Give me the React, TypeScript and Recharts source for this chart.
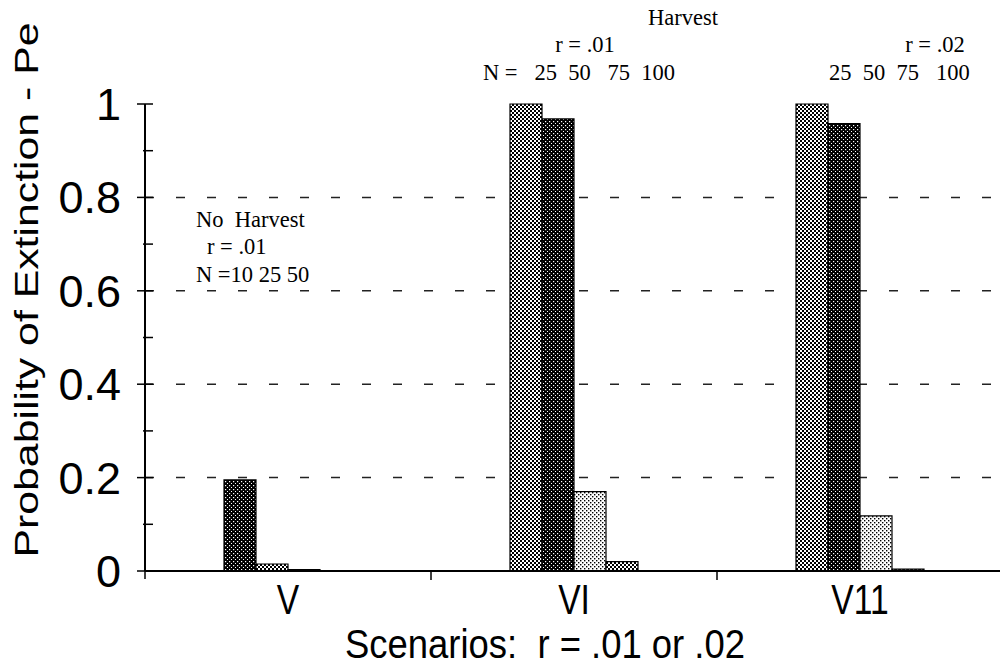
import React from "react";
import { BarChart, Bar, XAxis, YAxis, CartesianGrid, Cell } from "recharts";

// scenario groups and the four bars drawn in each group (left to right)
const scenarios = ["V", "VI", "V11"];
const bar1 = [0.195, 1.0, 1.0];
const bar2 = [0.015, 0.968, 0.958];
const bar3 = [0.003, 0.17, 0.118];
const bar4 = [0, 0.02, 0.004];

// halftone used by each bar, per scenario
const fill1 = ["dark", "checker", "checker"];
const fill2 = ["checker", "dark", "dark"];
const fill3 = ["light", "light", "light"];
const fill4 = ["checker", "checker", "dark"];

const yTicks = [0, 0.1, 0.2, 0.3, 0.4, 0.5, 0.6, 0.7, 0.8, 0.9, 1];
const gridValues = [0.2, 0.4, 0.6, 0.8];

const data = scenarios.map((name, i) => ({
  name,
  a: bar1[i],
  b: bar2[i],
  c: bar3[i],
  d: bar4[i],
}));

const W = 1010;
const H = 666;
const LEFT = 145;
const RIGHT = 7;
const BAND = (W - LEFT - RIGHT) / scenarios.length;
const SANS = '"Liberation Sans", Arial, Helvetica, sans-serif';
const SERIF = '"Liberation Serif", "Times New Roman", serif';

const YTick = (props: any) => {
  const { x, y, payload } = props;
  const v = payload.value;
  const major = Math.round(v * 10) % 2 === 0;
  const label = v === 0 ? "0" : v === 1 ? "1" : v.toFixed(1);
  return (
    <g>
      <line x1={major ? x - 8 : x - 2} x2={x + 8} y1={y} y2={y} stroke="#000" strokeWidth={1.5} />
      {major && (
        <text x={x - 24} y={y + 16} textAnchor="end" fontSize={45} fontFamily={SANS} fill="#000">
          {label}
        </text>
      )}
    </g>
  );
};

const XTick = (props: any) => {
  const { x, y, payload, index } = props;
  return (
    <g>
      {index === 0 && <line x1={x - BAND / 2} x2={x - BAND / 2} y1={y} y2={y + 8} stroke="#000" strokeWidth={1.5} />}
      {index < scenarios.length - 1 && (
        <line x1={x + BAND / 2} x2={x + BAND / 2} y1={y} y2={y + 9} stroke="#000" strokeWidth={1.5} />
      )}
      <text
        transform={`translate(${x},${y + 43}) scale(0.8,1)`}
        textAnchor="middle"
        fontSize={42}
        fontFamily={SANS}
        fill="#000"
      >
        {payload.value}
      </text>
    </g>
  );
};

const Patterns = () => (
  <svg width={0} height={0} style={{ position: "absolute" }}>
    <defs>
      <pattern id="checker" width={4} height={4} patternUnits="userSpaceOnUse">
        <rect width={4} height={4} fill="#fff" />
        <rect width={2} height={2} fill="#000" />
        <rect x={2} y={2} width={2} height={2} fill="#000" />
      </pattern>
      <pattern id="dark" width={4} height={4} patternUnits="userSpaceOnUse">
        <rect width={4} height={4} fill="#000" />
        <rect x={1} y={1} width={1.2} height={1.2} fill="#fff" />
        <rect x={3} y={3} width={1.2} height={1.2} fill="#fff" />
      </pattern>
      <pattern id="light" width={4} height={4} patternUnits="userSpaceOnUse">
        <rect width={4} height={4} fill="#fff" />
        <rect x={0} y={0} width={1.4} height={1.4} fill="#000" />
        <rect x={2} y={2} width={1.4} height={1.4} fill="#000" />
      </pattern>
    </defs>
  </svg>
);

const Notes = () => (
  <svg
    width={1000}
    height={H}
    style={{ position: "absolute", left: 0, top: 0, pointerEvents: "none" }}
  >
    <g fontFamily={SERIF} fontSize={22.5} fill="#000">
      <text x={683} y={25} textAnchor="middle">Harvest</text>
      <text x={585} y={52} textAnchor="middle">r = .01</text>
      <text x={483} y={80} xmlSpace="preserve">{"N =   25  50   75  100"}</text>
      <text x={935} y={52} textAnchor="middle">r = .02</text>
      <text x={829} y={80} xmlSpace="preserve">{"25  50  75   100"}</text>
      <text x={196} y={227} xmlSpace="preserve">{"No  Harvest"}</text>
      <text x={207} y={254}>r = .01</text>
      <text x={196} y={282}>N =10 25 50</text>
    </g>
    <text
      transform="translate(38,290) rotate(-90)"
      textAnchor="middle"
      fontSize={34}
      fontFamily={SANS}
      textLength={535}
      lengthAdjust="spacingAndGlyphs"
      fill="#000"
    >
      Probability of Extinction - Pe
    </text>
    <text
      x={545}
      y={658}
      textAnchor="middle"
      fontSize={40}
      fontFamily={SANS}
      textLength={400}
      lengthAdjust="spacingAndGlyphs"
      fill="#000"
      xmlSpace="preserve"
    >
      {"Scenarios:  r = .01 or .02"}
    </text>
  </svg>
);

const App = () => {
  return (
    <div style={{ position: "absolute", left: 0, top: 0, width: 1000, height: H, overflow: "hidden", background: "#fff" }}>
      <Patterns />
      <BarChart
        width={W}
        height={H}
        data={data}
        margin={{ top: 104, right: RIGHT, bottom: 0, left: 0 }}
        barGap={0}
      >
        <CartesianGrid
          vertical={false}
          horizontalValues={gridValues}
          stroke="#222"
          strokeWidth={1.5}
          strokeDasharray="9 22"
        />
        <XAxis
          dataKey="name"
          height={95}
          axisLine={{ stroke: "#000", strokeWidth: 2 }}
          tickLine={false}
          tickSize={0}
          tickMargin={0}
          interval={0}
          tick={<XTick />}
        />
        <YAxis
          width={LEFT}
          domain={[0, 1]}
          ticks={yTicks}
          interval={0}
          axisLine={{ stroke: "#000", strokeWidth: 2 }}
          tickLine={false}
          tickSize={0}
          tickMargin={0}
          tick={<YTick />}
        />
        <Bar dataKey="a" barSize={32} stroke="#000" strokeWidth={1.2} isAnimationActive={false}>
          {fill1.map((f, i) => (
            <Cell key={`a-${i}`} fill={`url(#${f})`} />
          ))}
        </Bar>
        <Bar dataKey="b" barSize={32} stroke="#000" strokeWidth={1.2} isAnimationActive={false}>
          {fill2.map((f, i) => (
            <Cell key={`b-${i}`} fill={`url(#${f})`} />
          ))}
        </Bar>
        <Bar dataKey="c" barSize={32} stroke="#000" strokeWidth={1.2} isAnimationActive={false}>
          {fill3.map((f, i) => (
            <Cell key={`c-${i}`} fill={`url(#${f})`} />
          ))}
        </Bar>
        <Bar dataKey="d" barSize={32} stroke="#000" strokeWidth={1.2} isAnimationActive={false}>
          {fill4.map((f, i) => (
            <Cell key={`d-${i}`} fill={`url(#${f})`} />
          ))}
        </Bar>
      </BarChart>
      <Notes />
    </div>
  );
};

export default App;
